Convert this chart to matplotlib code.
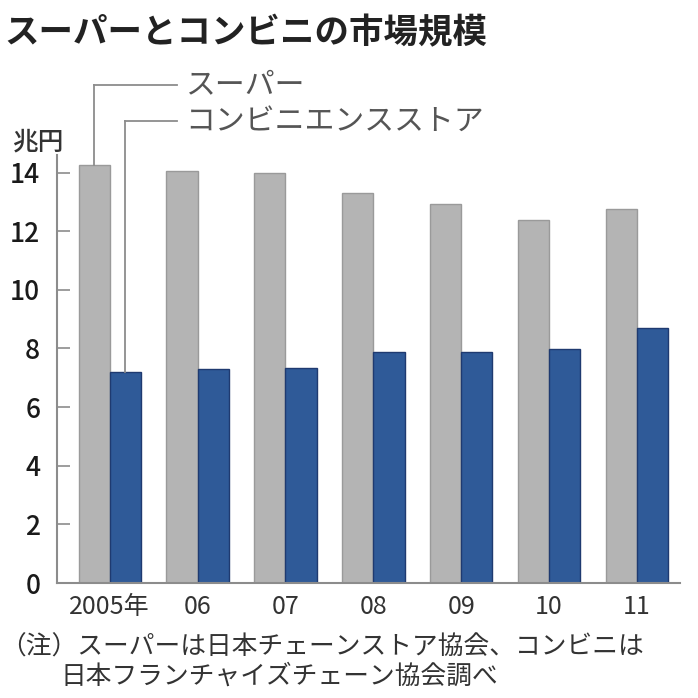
import matplotlib
matplotlib.use('Agg')
import matplotlib.pyplot as plt
from matplotlib import transforms
from matplotlib.lines import Line2D
import numpy as np

plt.rcParams['font.family'] = ['Noto Sans CJK JP', 'DejaVu Sans']

# data (兆円)
years = ['2005年', '06', '07', '08', '09', '10', '11']
super_sales = [14.27, 14.07, 13.98, 13.32, 12.93, 12.37, 12.76]
conv_sales = [7.21, 7.29, 7.33, 7.87, 7.89, 7.99, 8.69]
yticks = [0, 2, 4, 6, 8, 10, 12, 14]

gray = '#b4b4b4'
blue = '#2f5a98'
line_gray = '#8c8c8c'
text_gray = '#555555'

W = 698
fig = plt.figure(figsize=(6.98, 6.98), dpi=100)

def fx(px):
    return px / W

def fy(py):
    return 1 - py / W

ax = fig.add_axes([fx(57), fy(583), fx(680) - fx(57), fy(155) - fy(583)])

x = np.arange(len(years))
w = 0.355
ax.bar(x - w / 2, super_sales, w, color=gray, edgecolor='#9a9a9a', linewidth=1.0)
ax.bar(x + w / 2, conv_sales, w, color=blue, edgecolor='#1f3a70', linewidth=1.0)

ax.set_xlim(-0.60, 6.49)
ax.set_ylim(0, 14.6)
ax.set_yticks(yticks)
ax.set_yticklabels([str(t) for t in yticks], fontsize=19, color='#1a1a1a', fontweight='medium')
ax.tick_params(axis='y', direction='in', length=9, width=1.2, color=line_gray, pad=12)
ax.set_xticks(x)
ax.set_xticklabels(years, fontsize=18, color='#333333')
ax.tick_params(axis='x', length=0, pad=8)
for s in ['top', 'right']:
    ax.spines[s].set_visible(False)
for s in ['left', 'bottom']:
    ax.spines[s].set_color(line_gray)
    ax.spines[s].set_linewidth(1.5)

# leader lines for series labels
tr = transforms.blended_transform_factory(ax.transData, fig.transFigure)
for xi, top, py, label in [(x[0] - w / 2, super_sales[0], 85, 'スーパー'),
                           (x[0] + w / 2, conv_sales[0], 121, 'コンビニエンスストア')]:
    ytop = fig.transFigure.inverted().transform(ax.transData.transform((xi, top)))[1]
    fig.add_artist(Line2D([xi, xi], [ytop, fy(py)], transform=tr, color=line_gray, lw=1.3))
    xfig = fig.transFigure.inverted().transform(ax.transData.transform((xi, top)))[0]
    fig.add_artist(Line2D([xfig, fx(177)], [fy(py), fy(py)], color=line_gray, lw=1.3))
    fig.text(fx(185), fy(py), label, fontsize=21.5, color=text_gray, va='center', ha='left')

fig.text(fx(12), fy(142), '兆円', fontsize=18.5, color='#333333', fontweight='medium',
         va='center', ha='left')

fig.text(fx(4), fy(33), 'スーパーとコンビニの市場規模', fontsize=24.8, fontweight='bold',
         color='#222222', va='center', ha='left')

fig.text(fx(0), fy(648), '（注）スーパーは日本チェーンストア協会、コンビニは', fontsize=18.5,
         color='#333333', va='center', ha='left')
fig.text(fx(60), fy(677), '日本フランチャイズチェーン協会調べ', fontsize=18.5,
         color='#333333', va='center', ha='left')

fig.savefig('out.png', dpi=100)
